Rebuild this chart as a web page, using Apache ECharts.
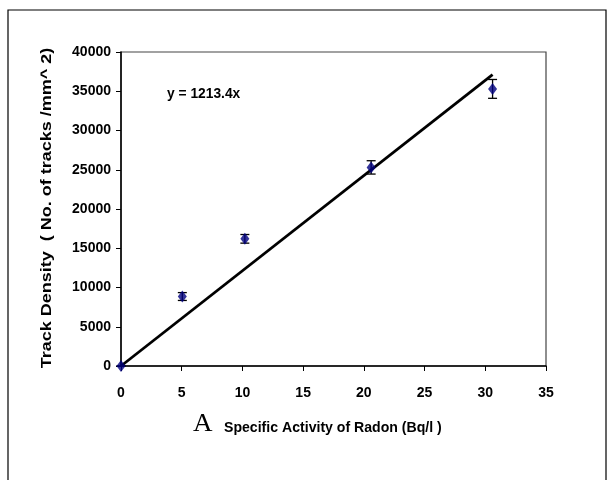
<!DOCTYPE html>
<html><head><meta charset="utf-8">
<script src="https://cdn.jsdelivr.net/npm/echarts@6/dist/echarts.min.js"></script>
<style>html,body{margin:0;padding:0;background:#fff}#c{width:614px;height:480px}</style>
</head><body><div id="c"></div>
<script>
const activity = [0, 5.05, 10.2, 20.6, 30.6];
const density = [0, 8850, 16200, 25300, 35300];
const errors = [0, 500, 550, 850, 1200];
const slope = 1213.4;
const fitRange = [0, 30.6];
const xTicks = [0, 5, 10, 15, 20, 25, 30, 35];
const yTicks = [0, 5000, 10000, 15000, 20000, 25000, 30000, 35000, 40000];
const yTitle = 'Track Density  ( No. of tracks /mm^ 2)';
const xTitle = 'Specific Activity of Radon (Bq/l )';
const equation = 'y = 1213.4x';

const pts = activity.map((x, i) => [x, density[i]]);
const errData = activity.map((x, i) => [x, density[i] - errors[i], density[i] + errors[i]]);
const fitData = fitRange.map(x => [x, slope * x]);
const sans = '"Liberation Sans",Arial,sans-serif';

const chart = echarts.init(document.getElementById('c'), null, {renderer: 'canvas'});
chart.setOption({
  animation: false,
  backgroundColor: '#fff',
  grid: {left: 121, right: 68, top: 52, bottom: 114, show: true, borderColor: '#444', borderWidth: 1.2},
  xAxis: {
    type: 'value', min: xTicks[0], max: xTicks[xTicks.length - 1], interval: 5,
    axisLine: {onZero: false, lineStyle: {color: '#000', width: 1.5}},
    axisTick: {show: true, inside: false, length: 5, lineStyle: {color: '#000'}},
    splitLine: {show: false},
    axisLabel: {color: '#000', fontWeight: 'bold', fontSize: 14, fontFamily: sans, margin: 20,
      formatter: v => String(v)}
  },
  yAxis: {
    type: 'value', min: yTicks[0], max: yTicks[yTicks.length - 1], interval: 5000,
    axisLine: {onZero: false, lineStyle: {color: '#000', width: 1.5}},
    axisTick: {show: true, inside: false, length: 5, lineStyle: {color: '#000'}},
    splitLine: {show: false},
    axisLabel: {color: '#000', fontWeight: 'bold', fontSize: 14, fontFamily: sans, margin: 10,
      formatter: v => String(v)}
  },
  series: [
    {type: 'line', data: fitData, symbol: 'none', lineStyle: {color: '#000', width: 2.8}, z: 2},
    {type: 'custom', data: errData, z: 3,
      renderItem: function (params, api) {
        const x = api.value(0);
        const lo = api.coord([x, api.value(1)]);
        const hi = api.coord([x, api.value(2)]);
        const w = 4.5;
        const st = {stroke: '#000', lineWidth: 1.3};
        return {type: 'group', children: [
          {type: 'line', shape: {x1: lo[0], y1: lo[1], x2: hi[0], y2: hi[1]}, style: st},
          {type: 'line', shape: {x1: lo[0] - w, y1: lo[1], x2: lo[0] + w, y2: lo[1]}, style: st},
          {type: 'line', shape: {x1: hi[0] - w, y1: hi[1], x2: hi[0] + w, y2: hi[1]}, style: st}
        ]};
      }
    },
    {type: 'scatter', data: pts, symbol: 'diamond', symbolSize: [9, 12], itemStyle: {color: '#000080'}, z: 4}
  ],
  graphic: [
    {type: 'rect', shape: {x: 8, y: 10, width: 598, height: 480}, style: {fill: 'none', stroke: '#000', lineWidth: 1.2}, silent: true},
    {type: 'text', x: 47, y: 208, rotation: Math.PI / 2, scaleX: 1.2,
      style: {text: yTitle, fill: '#000', font: 'bold 15px ' + sans, textAlign: 'center', textVerticalAlign: 'middle'}},
    {type: 'text', x: 167, y: 86, scaleX: 0.92, style: {text: equation, fill: '#000', font: 'bold 15px ' + sans}},
    {type: 'text', x: 193, y: 424.5, scaleX: 1.08,
      style: {text: 'A', fill: '#000', font: '25px "Liberation Serif","Times New Roman",serif', textVerticalAlign: 'middle'}},
    {type: 'text', x: 224, y: 427.5, scaleX: 0.94,
      style: {text: xTitle, fill: '#000', font: 'bold 15px ' + sans, textVerticalAlign: 'middle'}}
  ]
});
</script></body></html>
